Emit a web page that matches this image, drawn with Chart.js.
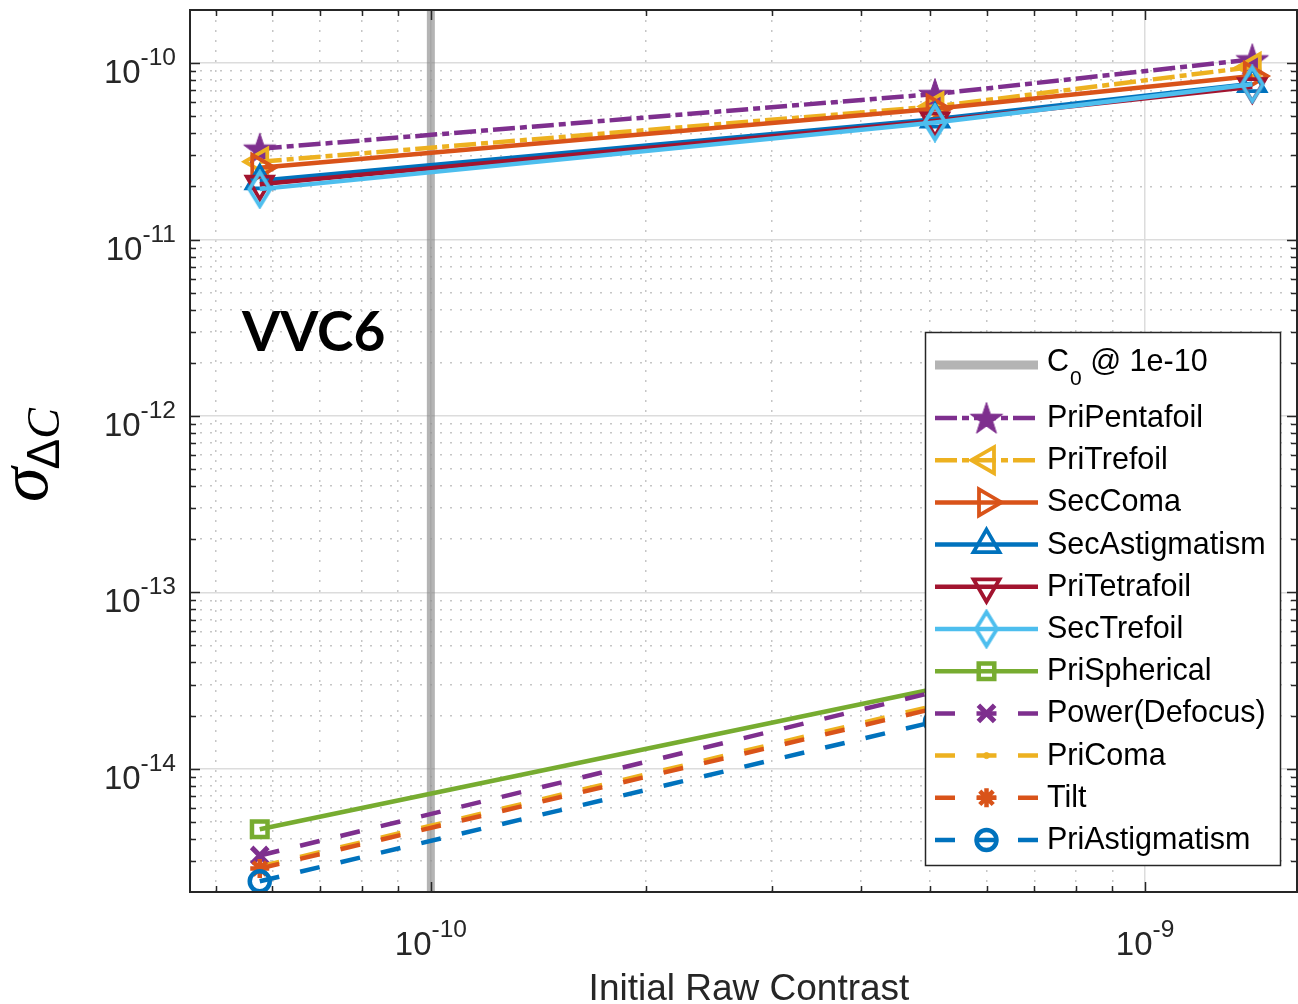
<!DOCTYPE html>
<html>
<head>
<meta charset="utf-8">
<script src="https://cdn.jsdelivr.net/npm/chart.js@4.4.1/dist/chart.umd.min.js"></script>
<style>
  html, body { margin: 0; padding: 0; background: #fff; }
  canvas { display: block; }
</style>
</head>
<body>
<canvas id="sigmaChart" width="1298" height="1004"></canvas>
<script>
// 데이터 (Initial Raw Contrast vs sigma_dC)
const rawContrast = [5.76e-11, 5.08e-10, 1.413e-9];

const priPentafoil   = [3.27e-11, 6.68e-11, 1.05e-10];
const priTrefoil     = [2.76e-11, 5.68e-11, 9.5e-11];
const secComa        = [2.55e-11, 5.51e-11, 8.45e-11];
const secAstigmatism = [2.15e-11, 4.81e-11, 7.64e-11];
const priTetrafoil   = [2.06e-11, 4.7e-11, 7.35e-11];
const secTrefoil     = [1.93e-11, 4.6e-11, 7.58e-11];
const priSpherical   = [4.54e-15, 2.84e-14, 6.5e-14];
const powerDefocus   = [3.22e-15, 2.73e-14, 7.0e-14];
const priComa        = [2.79e-15, 2.28e-14, 5.9e-14];
const tilt           = [2.72e-15, 2.2e-14, 5.7e-14];
const priAstigmatism = [2.3e-15, 1.85e-14, 4.8e-14];

const seriesNames = ["PriPentafoil", "PriTrefoil", "SecComa", "SecAstigmatism", "PriTetrafoil",
  "SecTrefoil", "PriSpherical", "Power(Defocus)", "PriComa", "Tilt", "PriAstigmatism"];
const seriesValues = [priPentafoil, priTrefoil, secComa, secAstigmatism, priTetrafoil,
  secTrefoil, priSpherical, powerDefocus, priComa, tilt, priAstigmatism];

// C0 @ 1e-10 vertical line
const c0Label = "C0 @ 1e-10";
const c0X = [1e-10, 1e-10];
const c0Y = [2e-15, 2e-10];

const xRange = [4.6e-11, 1.632e-9];
const yRange = [2e-15, 2e-10];
const xTickLabels = [-10, -9];            // 10^n
const yTickLabels = [-10, -11, -12, -13, -14];

// 스타일
const C = {
  blue: "#0072BD", orange: "#D95319", yellow: "#EDB120", purple: "#7E2F8E",
  green: "#77AC30", lightBlue: "#4DBEEE", darkRed: "#A2142F",
};
const DASHDOT = [22, 5, 7, 5];
const DASH = [20, 21.5];
const FONT = '"Liberation Sans", Arial, sans-serif';
const LINE_W = 4.5;

function makeStar(color) {
  const c = document.createElement("canvas");
  c.width = 38; c.height = 38;
  const g = c.getContext("2d");
  g.beginPath();
  for (let i = 0; i < 10; i++) {
    const r = i % 2 === 0 ? 17 : 6.6;
    const a = -Math.PI / 2 + (i * Math.PI) / 5;
    const px = 19 + r * Math.cos(a), py = 20.5 + r * Math.sin(a);
    if (i === 0) g.moveTo(px, py); else g.lineTo(px, py);
  }
  g.closePath();
  g.fillStyle = color; g.strokeStyle = color; g.lineWidth = 1;
  g.fill(); g.stroke();
  return c;
}

function makeDiamond(color) {
  const c = document.createElement("canvas");
  c.width = 30; c.height = 40;
  const g = c.getContext("2d");
  g.beginPath();
  g.moveTo(15, 3); g.lineTo(25.5, 20); g.lineTo(15, 37); g.lineTo(4.5, 20);
  g.closePath();
  g.strokeStyle = color; g.lineWidth = 3.8; g.lineJoin = "miter";
  g.stroke();
  return c;
}

const seriesStyles = [
  { color: C.purple, dash: DASHDOT, marker: makeStar(C.purple), radius: 17, rotation: 0, bw: 1, fill: false },
  { color: C.yellow, dash: DASHDOT, marker: "triangle", radius: 15, rotation: -90, bw: 3.8, fill: false },
  { color: C.orange, dash: [], marker: "triangle", radius: 15, rotation: 90, bw: 3.8, fill: false },
  { color: C.blue, dash: [], marker: "triangle", radius: 15, rotation: 0, bw: 3.8, fill: false },
  { color: C.darkRed, dash: [], marker: "triangle", radius: 15, rotation: 180, bw: 3.8, fill: false },
  { color: C.lightBlue, dash: [], marker: makeDiamond(C.lightBlue), radius: 16, rotation: 0, bw: 3.8, fill: false },
  { color: C.green, dash: [], marker: "rect", radius: 11, rotation: 0, bw: 4.5, fill: false },
  { color: C.purple, dash: DASH, marker: "crossRot", radius: 11.5, rotation: 0, bw: 5, fill: false },
  { color: C.yellow, dash: DASH, marker: "circle", radius: 3, rotation: 0, bw: 1, fill: true },
  { color: C.orange, dash: DASH, marker: "star", radius: 9.5, rotation: 0, bw: 4.5, fill: true },
  { color: C.blue, dash: DASH, marker: "circle", radius: 10, rotation: 0, bw: 4.5, fill: false },
];

// 로그 눈금 (1..9 x 10^n)
function isDecade(v) {
  const l = Math.log10(v);
  return Math.abs(l - Math.round(l)) < 1e-9;
}
function buildLogTicks(min, max) {
  const ticks = [];
  for (let e = Math.floor(Math.log10(min)); e <= Math.ceil(Math.log10(max)); e++) {
    for (let m = 1; m <= 9; m++) {
      const v = m * Math.pow(10, e);
      if (v >= min * 0.999 && v <= max * 1.001) ticks.push({ value: v, major: m === 1 });
    }
  }
  return ticks;
}

const datasets = [{
  label: c0Label,
  data: c0X.map((x, i) => ({ x: x, y: c0Y[i] })),
  borderColor: "rgba(130,130,130,0.6)",
  borderWidth: 8,
  pointRadius: 0,
  order: 100,
}];
seriesNames.forEach((name, i) => {
  const s = seriesStyles[i];
  datasets.push({
    label: name,
    data: rawContrast.map((x, j) => ({ x: x, y: seriesValues[i][j] })),
    borderColor: s.color,
    borderWidth: LINE_W,
    borderDash: s.dash,
    tension: 0,
    pointStyle: s.marker,
    pointRadius: s.radius,
    pointRotation: s.rotation,
    pointBorderColor: s.color,
    pointBorderWidth: s.bw,
    pointBackgroundColor: s.fill ? s.color : "rgba(0,0,0,0)",
    order: 50 - i,
  });
});

// 10^n 라벨
function drawPow(ctx, exp, x, y, align) {
  ctx.font = "33px " + FONT;
  const wb = ctx.measureText("10").width;
  ctx.font = "24.5px " + FONT;
  const we = ctx.measureText(String(exp)).width;
  const total = wb + we;
  const x0 = align === "center" ? x - total / 2 : x - total;
  ctx.textAlign = "left";
  ctx.font = "33px " + FONT;
  ctx.fillText("10", x0, y);
  ctx.font = "24.5px " + FONT;
  ctx.fillText(String(exp), x0 + wb, y - 18);
}

function drawMarker(ctx, s, x, y) {
  ctx.save();
  ctx.setLineDash([]);
  ctx.strokeStyle = s.color;
  ctx.fillStyle = s.fill ? s.color : "rgba(0,0,0,0)";
  ctx.lineWidth = s.bw;
  Chart.helpers.drawPoint(ctx, { pointStyle: s.marker, radius: s.radius, rotation: s.rotation, borderWidth: s.bw }, x, y);
  ctx.restore();
}

const decorPlugin = {
  id: "decor",
  afterDatasetsDraw(chart) {
    const { ctx, chartArea: a, scales: { x, y } } = chart;
    ctx.save();

    // 축 박스 + 안쪽 눈금
    ctx.strokeStyle = "#262626";
    ctx.lineWidth = 2;
    ctx.strokeRect(a.left, a.top, a.right - a.left, a.bottom - a.top);
    ctx.lineWidth = 1.5;
    ctx.beginPath();
    x.ticks.forEach((t) => {
      const px = Math.round(x.getPixelForValue(t.value)) + 0.5;
      if (px <= a.left + 2 || px >= a.right - 2) return;
      const len = isDecade(t.value) ? 10 : 6;
      ctx.moveTo(px, a.bottom); ctx.lineTo(px, a.bottom - len);
      ctx.moveTo(px, a.top); ctx.lineTo(px, a.top + len);
    });
    y.ticks.forEach((t) => {
      const py = Math.round(y.getPixelForValue(t.value)) + 0.5;
      if (py <= a.top + 2 || py >= a.bottom - 2) return;
      const len = isDecade(t.value) ? 10 : 6;
      ctx.moveTo(a.left, py); ctx.lineTo(a.left + len, py);
      ctx.moveTo(a.right, py); ctx.lineTo(a.right - len, py);
    });
    ctx.stroke();

    // 눈금 라벨
    ctx.fillStyle = "#262626";
    ctx.textBaseline = "alphabetic";
    xTickLabels.forEach((n) => drawPow(ctx, n, x.getPixelForValue(Math.pow(10, n)), a.bottom + 63, "center"));
    yTickLabels.forEach((n) => drawPow(ctx, n, 176, y.getPixelForValue(Math.pow(10, n)) + 20, "right"));

    // 축 제목
    ctx.font = "37px " + FONT;
    ctx.textAlign = "center";
    ctx.fillText("Initial Raw Contrast", 749, 1000);

    ctx.save();
    ctx.translate(47, 502);
    ctx.rotate(-Math.PI / 2);
    ctx.textAlign = "left";
    ctx.fillStyle = "#000";
    ctx.font = 'italic 70px "Liberation Serif", serif';
    ctx.fillText("σ", 0, 0);
    const ws = ctx.measureText("σ").width;
    ctx.font = "46px " + FONT;
    ctx.fillText("Δ", ws - 2, 12);
    const wd = ctx.measureText("Δ").width;
    ctx.font = 'italic 46px "Liberation Serif", serif';
    ctx.fillText("C", ws - 2 + wd, 12);
    ctx.restore();

    // VVC6
    ctx.fillStyle = "#000";
    ctx.textAlign = "left";
    ctx.font = "bold 55px Lato, sans-serif";
    ctx.fillText("VVC6", 242, 351);

    // 범례
    const lx = 925, ly = 332, lw = 355, lh = 533;
    ctx.fillStyle = "#fff";
    ctx.fillRect(lx, ly, lw, lh);
    ctx.strokeStyle = "#262626";
    ctx.lineWidth = 1.5;
    ctx.strokeRect(lx + 0.5, ly + 0.5, lw, lh);

    const x1 = 935, x2 = 1038, mx = 986.5, tx = 1047;
    ctx.lineCap = "butt";
    ctx.strokeStyle = "rgba(130,130,130,0.6)";
    ctx.lineWidth = 9;
    ctx.beginPath(); ctx.moveTo(x1, 365); ctx.lineTo(x2, 365); ctx.stroke();
    ctx.fillStyle = "#000";
    ctx.font = "30.5px " + FONT;
    ctx.fillText("C", tx, 371);
    const wc = ctx.measureText("C").width;
    ctx.font = "21px " + FONT;
    ctx.fillText("0", tx + wc + 1, 385);
    const w0 = ctx.measureText("0").width;
    ctx.font = "30.5px " + FONT;
    ctx.fillText(" @ 1e-10", tx + wc + 1 + w0, 371);

    seriesNames.forEach((name, i) => {
      const s = seriesStyles[i];
      const ry = 418 + i * 42.2;
      ctx.strokeStyle = s.color;
      ctx.lineWidth = LINE_W;
      ctx.setLineDash(s.dash);
      ctx.beginPath(); ctx.moveTo(x1, ry); ctx.lineTo(x2, ry); ctx.stroke();
      ctx.setLineDash([]);
      drawMarker(ctx, s, mx, ry);
      ctx.fillStyle = "#000";
      ctx.font = "30.5px " + FONT;
      ctx.fillText(name, tx, ry + 9);
    });
    ctx.restore();
  },
};

function gridOpts() {
  return {
    drawTicks: false,
    color: (c) => (c.tick && isDecade(c.tick.value) ? "#dcdcdc" : "#c6c6c6"),
    lineWidth: 1.5,
  };
}
function borderOpts() {
  return {
    display: false,
    dash: (c) => (c.tick && !isDecade(c.tick.value) ? [2, 8] : []),
  };
}

// 차트 생성
document.addEventListener("DOMContentLoaded", () => {
  const ctx = document.getElementById("sigmaChart").getContext("2d");
  new Chart(ctx, {
    type: "line",
    data: { datasets: datasets },
    options: {
      responsive: false,
      animation: false,
      events: [],
      layout: { autoPadding: false, padding: { top: 10, right: 1, left: 0, bottom: 0 } },
      plugins: { legend: { display: false }, tooltip: { enabled: false } },
      scales: {
        x: {
          type: "logarithmic",
          min: xRange[0], max: xRange[1],
          afterBuildTicks: (s) => { s.ticks = buildLogTicks(s.min, s.max); },
          afterFit: (s) => { s.height = 112; },
          ticks: { display: false },
          grid: gridOpts(),
          border: borderOpts(),
        },
        y: {
          type: "logarithmic",
          min: yRange[0], max: yRange[1],
          afterBuildTicks: (s) => { s.ticks = buildLogTicks(s.min, s.max); },
          afterFit: (s) => { s.width = 190; },
          ticks: { display: false },
          grid: gridOpts(),
          border: borderOpts(),
        },
      },
    },
    plugins: [decorPlugin],
  });
});
</script>
</body>
</html>
